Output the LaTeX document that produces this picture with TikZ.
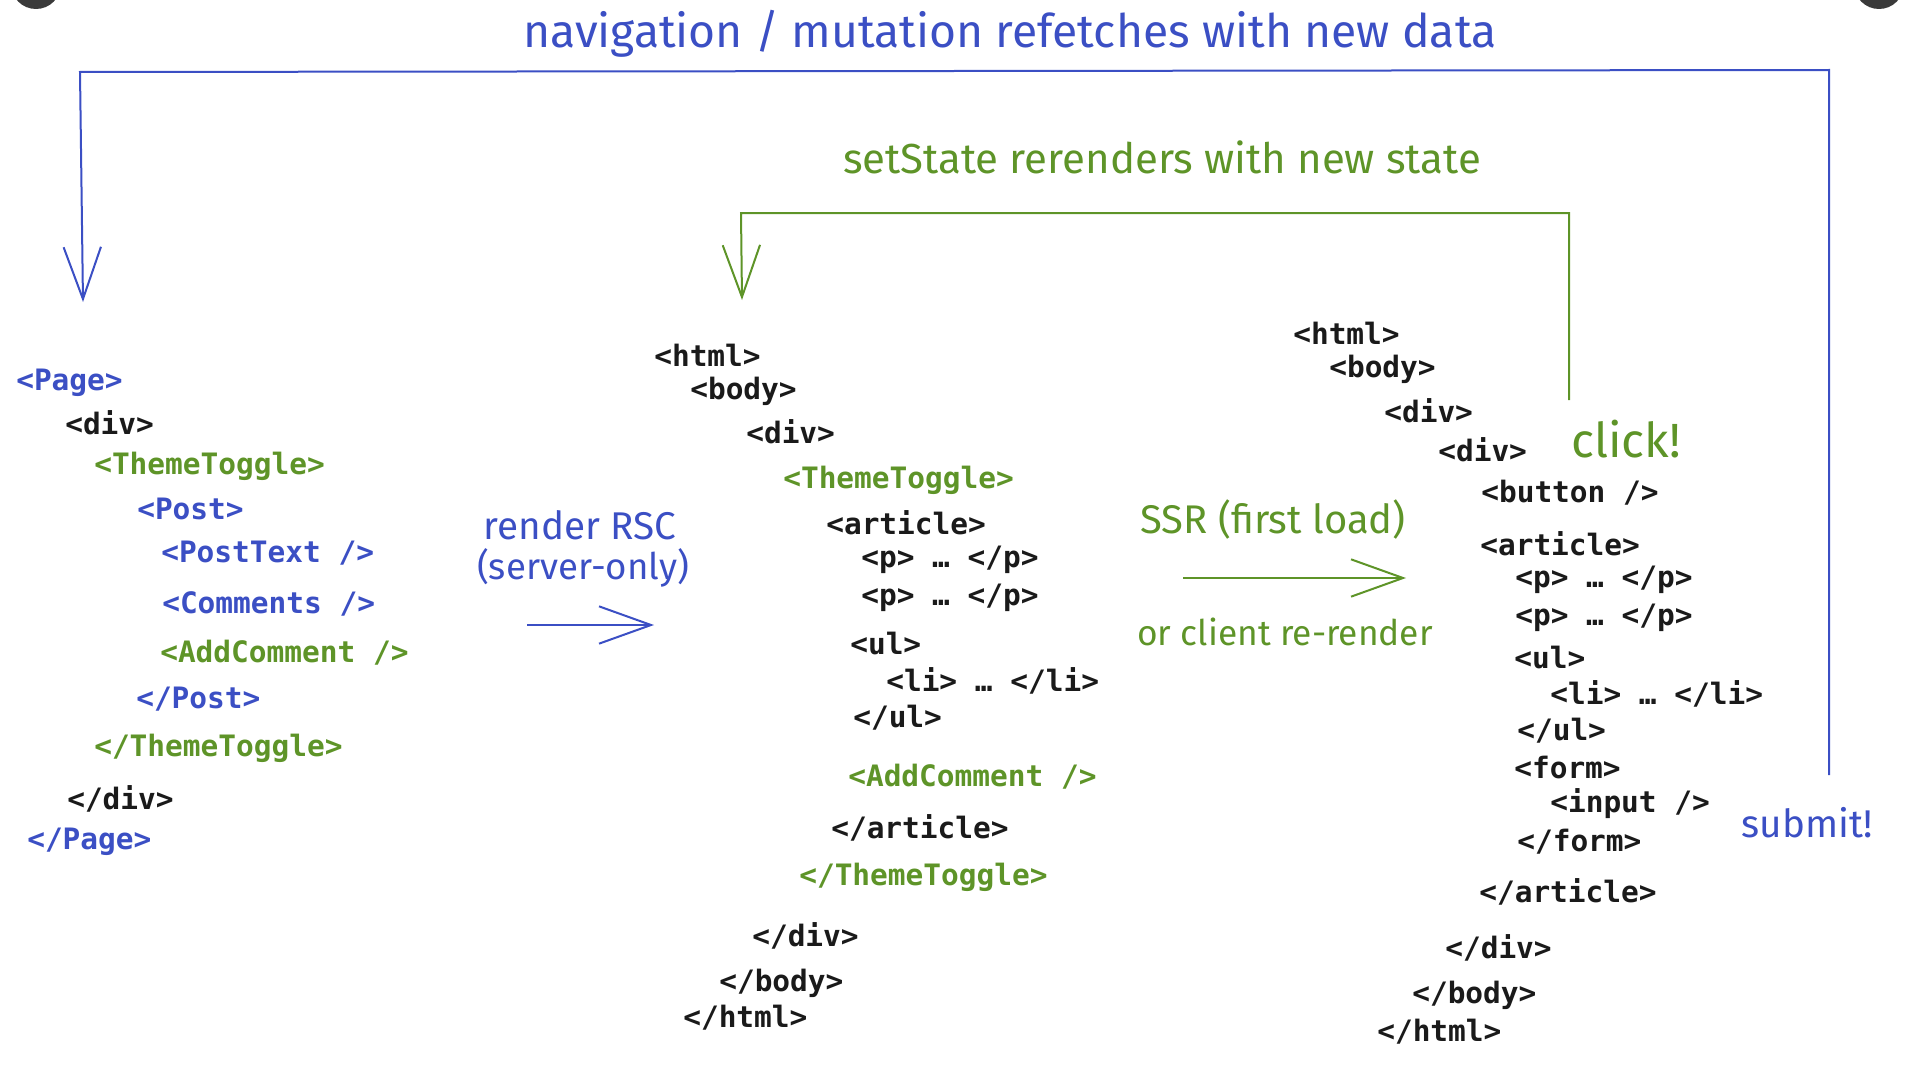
\documentclass[tikz,border=0pt]{standalone}
\usepackage{fontspec}
\setmonofont{DejaVu Sans Mono}
\newfontfamily\handfont{Fira Sans}
\usepackage{tikz}
\usetikzlibrary{arrows.meta,calc,positioning}
\definecolor{rscblue}{HTML}{3B4FC4}
\definecolor{ccgreen}{HTML}{5E9428}
\definecolor{tagblack}{HTML}{1A1A1A}
\definecolor{dot}{HTML}{3A3A3A}
\tikzset{
    code/.style={anchor=west, inner sep=0pt, font=\fontsize{22.1}{27}\selectfont\ttfamily\bfseries},
    srv/.style={code, text=rscblue},
    cli/.style={code, text=ccgreen},
    tag/.style={code, text=tagblack},
    hand/.style={inner sep=0pt, font=\fontsize{#1}{#1}\selectfont\handfont},
    hand/.default=30,
    flow/.style={line width=1.5pt, arrows={-Straight Barb[length=39pt,width=28pt,line width=1.5pt]}},
}

\begin{document}
\begin{tikzpicture}[x=0.75pt,y=0.75pt,yscale=-1,xscale=1]
\useasboundingbox (0,0) rectangle (1924,1074);
\clip (0,0) rectangle (1924,1074);
%Corner dots
\fill[dot] (36,-16) circle (25);
\fill[dot] (1879,-16) circle (25);
%Loop coordinates
\coordinate (navStart) at (1829,775);
\coordinate (navTR) at (1829,70);
\coordinate (navTL) at (80,72);
\coordinate (navEnd) at (83,302);
\coordinate (setStart) at (1569,400);
\coordinate (setTR) at (1569,213);
\coordinate (setTL) at (741,213);
\coordinate (setEnd) at (742,300);
%Big loops
\draw [rscblue, flow] (navStart) -- (navTR) -- (navTL) -- (navEnd);
\draw [ccgreen, flow] (setStart) -- (setTR) -- (setTL) -- (setEnd);
\draw (1010,34) node (navLbl) [hand=34.7, text=rscblue] {navigation / mutation refetches with new data};
\draw (1162,157) node (setLbl) [hand=31.5, text=ccgreen] {setState rerenders with new state};
%Component tree
\draw (16,383) node (page) [srv] {<Page>};
\draw (65,423) node (divA) [tag] {<div>};
\draw (94,466) node (ttA) [cli] {<ThemeToggle>};
\draw (137,509) node (post) [srv] {<Post>};
\draw (161,553) node (ptext) [srv] {<PostText />};
\draw (162,604) node (comm) [srv] {<Comments />};
\draw (160,653) node (addA) [cli] {<AddComment />};
\draw (136,699) node (postEnd) [srv] {</Post>};
\draw (94,748) node (ttAEnd) [cli] {</ThemeToggle>};
\draw (67,799) node (divAEnd) [tag] {</div>};
\draw (27,842) node (pageEnd) [srv] {</Page>};
%RSC arrow
\coordinate (rscFrom) at (527,625);
\coordinate (rscTo) at (654,625);
\draw [rscblue, flow] (rscFrom) -- (rscTo);
\draw (580,525) node (rscA) [hand=29, text=rscblue] {render RSC};
\draw (583,568) node (rscB) [hand=27.5, text=rscblue] {(server-only)};
%RSC payload tree
\draw (654,355) node (htmlB) [tag] {<html>};
\draw (690,391) node (bodyB) [tag] {<body>};
\draw (746,432) node (divB) [tag] {<div>};
\draw (783,480) node (ttB) [cli] {<ThemeToggle>};
\draw (826,523) node (artB) [tag] {<article>};
\draw (861,560) node (pB1) [tag] {<p> … </p>};
\draw (861,598) node (pB2) [tag] {<p> … </p>};
\draw (850,644) node (ulB) [tag] {<ul>};
\draw (886,681) node (liB) [tag] {<li> … </li>};
\draw (853,718) node (ulBEnd) [tag] {</ul>};
\draw (848,777) node (addB) [cli] {<AddComment />};
\draw (831,828) node (artBEnd) [tag] {</article>};
\draw (799,877) node (ttBEnd) [cli] {</ThemeToggle>};
\draw (752,936) node (divBEnd) [tag] {</div>};
\draw (719,983) node (bodyBEnd) [tag] {</body>};
\draw (683,1018) node (htmlBEnd) [tag] {</html>};
%SSR arrow
\coordinate (ssrFrom) at (1183,578);
\coordinate (ssrTo) at (1406,578);
\draw [ccgreen, flow] (ssrFrom) -- (ssrTo);
\draw (1273,519) node (ssrA) [hand=30, text=ccgreen] {SSR (first load)};
\draw (1285,632) node (ssrB) [hand=26.5, text=ccgreen] {or client re-render};
%DOM tree
\draw (1293,333) node (htmlC) [tag] {<html>};
\draw (1329,369) node (bodyC) [tag] {<body>};
\draw (1384,411) node (divC1) [tag] {<div>};
\draw (1438,450) node (divC2) [tag] {<div>};
\draw (1481,493) node (btnC) [tag] {<button />};
\draw (1480,544) node (artC) [tag] {<article>};
\draw (1515,580) node (pC1) [tag] {<p> … </p>};
\draw (1515,618) node (pC2) [tag] {<p> … </p>};
\draw (1514,658) node (ulC) [tag] {<ul>};
\draw (1550,694) node (liC) [tag] {<li> … </li>};
\draw (1517,731) node (ulCEnd) [tag] {</ul>};
\draw (1514,768) node (formC) [tag] {<form>};
\draw (1550,804) node (inputC) [tag] {<input />};
\draw (1517,842) node (formCEnd) [tag] {</form>};
\draw (1479,892) node (artCEnd) [tag] {</article>};
\draw (1445,948) node (divCEnd) [tag] {</div>};
\draw (1412,995) node (bodyCEnd) [tag] {</body>};
\draw (1377,1032) node (htmlCEnd) [tag] {</html>};
%Events
\draw (1626,439) node (click) [hand=36, text=ccgreen] {click!};
\draw (1807,823) node (submit) [hand=29, text=rscblue] {submit!};
\end{tikzpicture}
\end{document}
